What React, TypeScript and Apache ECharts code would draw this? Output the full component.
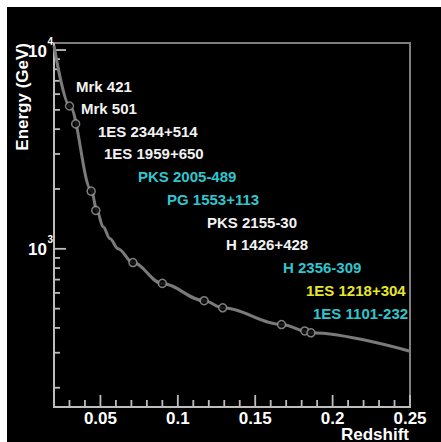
import React, { useEffect, useRef } from 'react';
import * as echarts from 'echarts';

// Sources (TeV blazars): redshift and energy
const sourceNames = [
  'Mrk 421', 'Mrk 501', '1ES 2344+514', '1ES 1959+650', 'PKS 2005-489',
  'PG 1553+113', 'PKS 2155-30', 'H 1426+428', 'H 2356-309', '1ES 1218+304', '1ES 1101-232',
];
const sourceZ = [0.030, 0.034, 0.044, 0.047, 0.071, 0.090, 0.117, 0.129, 0.167, 0.182, 0.186];
const sourceE = [5230, 4250, 1950, 1560, 853, 670, 548, 505, 416, 386, 378];

// Cut-off curve
const curveZ = [0.0200, 0.0303, 0.0440, 0.0478, 0.0517, 0.0562, 0.0614, 0.0709, 0.0898, 0.117, 0.129, 0.167, 0.186, 0.25];
const curveE = [10500, 5200, 1980, 1553, 1290, 1123, 1000, 853, 669, 548, 505, 416, 378, 305];

// Axis ranges and ticks
const X_MIN = 0.02;
const X_MAX = 0.25;
const X_MINOR_STEP = 0.01;
const X_LABEL_STEP = 0.05;
const Y_MIN = 160;
const Y_MAX = 10850;
const xMajorTicks = [0.05, 0.1, 0.15, 0.2, 0.25];
const xMinorTicks = [0.03, 0.04, 0.06, 0.07, 0.08, 0.09, 0.11, 0.12, 0.13, 0.14, 0.16, 0.17, 0.18, 0.19, 0.21, 0.22, 0.23, 0.24];
const yMajorTicks = [1000, 10000];
const yMajorExponents = ['3', '4'];
const yMinorTicks = [200, 300, 400, 500, 600, 700, 800, 900, 2000, 3000, 4000, 5000, 6000, 7000, 8000, 9000];

// Label styling / layout (not data)
const WHITE = '#f2f2f2';
const CYAN = '#2fc6cf';
const YELLOW = '#e6e62e';
const labelColors = [WHITE, WHITE, WHITE, WHITE, CYAN, CYAN, WHITE, WHITE, CYAN, YELLOW, CYAN];
const labelLeft = [76, 81, 98, 104, 138, 167, 207, 226, 283, 306, 313];
const labelMidY = [86, 108, 131, 153, 176, 199, 222, 244, 267, 290, 313];

const FONT = "'Liberation Sans', Arial, Helvetica, sans-serif";
const AXIS_COLOR = '#bdbdbd';

export default function App() {
  const ref = useRef<HTMLDivElement>(null);

  useEffect(() => {
    if (!ref.current) return;
    const chart = echarts.init(ref.current, null, { renderer: 'svg' });

    chart.setOption({
      animation: false,
      backgroundColor: 'transparent',
      grid: {
        left: 54, top: 43, width: 356, height: 364,
        show: true, borderColor: '#7e7e7e', borderWidth: 2, backgroundColor: 'transparent',
      },
      xAxis: {
        type: 'value', min: X_MIN, max: X_MAX, interval: X_MINOR_STEP, position: 'bottom',
        axisLine: { show: false },
        axisTick: { show: false },
        axisLabel: {
          show: true, color: '#ffffff', fontSize: 17, fontWeight: 'bold', fontFamily: FONT, margin: 3,
          showMinLabel: true, showMaxLabel: true,
          formatter: (v: number) => {
            const k = v / X_LABEL_STEP;
            return Math.abs(k - Math.round(k)) < 1e-6 ? String(+v.toFixed(2)) : '';
          },
        },
        splitLine: { show: false },
      },
      yAxis: {
        type: 'log', logBase: 10, min: Y_MIN, max: Y_MAX, position: 'left',
        axisLine: { show: false },
        axisTick: { show: false },
        axisLabel: { show: false },
        splitLine: { show: false },
      },
      series: [
        {
          type: 'line',
          data: curveZ.map((z, i) => [z, curveE[i]]),
          smooth: 0.35, smoothMonotone: 'x', symbol: 'none',
          lineStyle: { color: '#7a7a7a', width: 3 }, z: 2,
        },
        {
          type: 'scatter',
          data: sourceZ.map((z, i) => ({ value: [z, sourceE[i]], name: sourceNames[i] })),
          symbol: 'circle', symbolSize: 8,
          itemStyle: { color: '#000000', borderColor: '#9c9c9c', borderWidth: 1.5 }, z: 3,
        },
      ],
    });

    const toPx = (xv: number, yv: number) => chart.convertToPixel({ gridIndex: 0 }, [xv, yv]) as number[];
    const bar = (x: number, y: number, w: number, h: number) => ({
      type: 'rect', shape: { x, y, width: w, height: h }, style: { fill: AXIS_COLOR },
    });
    const graphics: any[] = [];

    const origin = toPx(X_MIN, Y_MIN);
    const corner = toPx(X_MAX, Y_MAX);
    // left and bottom axis lines
    graphics.push(bar(origin[0] - 1, corner[1], 2, origin[1] - corner[1] + 1));
    graphics.push(bar(origin[0] - 1, origin[1] - 1, corner[0] - origin[0] + 2, 2));

    xMajorTicks.forEach((v) => {
      const p = toPx(v, Y_MIN);
      graphics.push(bar(p[0] - 0.9, p[1] - 12, 1.8, 12));
    });
    xMinorTicks.forEach((v) => {
      const p = toPx(v, Y_MIN);
      graphics.push(bar(p[0] - 0.9, p[1] - 7, 1.8, 7));
    });
    yMajorTicks.forEach((v) => {
      const p = toPx(X_MIN, v);
      graphics.push(bar(p[0], p[1] - 0.9, 12, 1.8));
    });
    yMinorTicks.forEach((v) => {
      const p = toPx(X_MIN, v);
      graphics.push(bar(p[0], p[1] - 0.9, 6, 1.8));
    });

    yMajorTicks.forEach((v, i) => {
      const p = toPx(X_MIN, v);
      graphics.push({
        type: 'text', x: p[0] - 7, y: p[1] + 1,
        style: { text: '10', fill: '#ffffff', fontSize: 17, fontWeight: 'bold', fontFamily: FONT, align: 'right', verticalAlign: 'middle' },
      });
      graphics.push({
        type: 'text', x: p[0] - 6.5, y: p[1] - 9,
        style: { text: yMajorExponents[i], fill: '#ffffff', fontSize: 10, fontWeight: 'bold', fontFamily: FONT, align: 'left', verticalAlign: 'middle' },
      });
    });
    sourceNames.forEach((name, i) => {
      graphics.push({
        type: 'text', x: labelLeft[i], y: labelMidY[i],
        style: { text: name, fill: labelColors[i], fontSize: 15, fontWeight: 'bold', fontFamily: FONT, align: 'left', verticalAlign: 'middle' },
      });
    });
    graphics.push({
      type: 'text', x: 409, y: 434,
      style: { text: 'Redshift', fill: '#ffffff', fontSize: 17, fontWeight: 'bold', fontFamily: FONT, align: 'right', verticalAlign: 'middle' },
    });
    graphics.push({
      type: 'text', x: 22, y: 43, rotation: Math.PI / 2,
      style: { text: 'Energy (GeV)', fill: '#ffffff', fontSize: 17, fontWeight: 'bold', fontFamily: FONT, align: 'right', verticalAlign: 'middle' },
    });
    chart.setOption({ graphic: graphics });

    return () => chart.dispose();
  }, []);

  return (
    <div style={{ position: 'absolute', left: 0, top: 0, width: 441, height: 442, background: '#ffffff' }}>
      <div style={{ position: 'absolute', left: 7, top: 7, width: 434, height: 435, background: '#000000' }} />
      <div ref={ref} style={{ position: 'absolute', left: 0, top: 0, width: 441, height: 442 }} />
    </div>
  );
}
